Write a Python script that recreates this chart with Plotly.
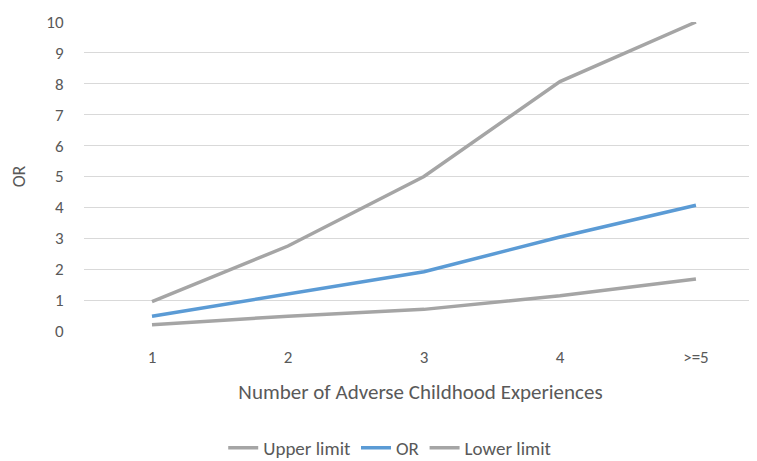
import plotly.graph_objects as go

categories = ["1", "2", "3", "4", ">=5"]
upper_limit = [0.95, 2.75, 5.0, 8.07, 10.0]
odds_ratio = [0.48, 1.2, 1.92, 3.04, 4.07]
lower_limit = [0.2, 0.48, 0.7, 1.14, 1.68]

gray = "#A5A5A5"
blue = "#5B9BD5"
text_color = "#595959"
font_family = "Carlito, Lato, 'Open Sans', sans-serif"

fig = go.Figure()
fig.add_trace(go.Scatter(x=categories, y=upper_limit, mode="lines", name="Upper limit",
                         line=dict(color=gray, width=3.5)))
fig.add_trace(go.Scatter(x=categories, y=odds_ratio, mode="lines", name="OR",
                         line=dict(color=blue, width=3.5)))
fig.add_trace(go.Scatter(x=categories, y=lower_limit, mode="lines", name="Lower limit",
                         line=dict(color=gray, width=3.5)))

fig.update_layout(
    width=749, height=453,
    margin=dict(l=76, r=0, t=14, b=130, autoexpand=False),
    plot_bgcolor="white", paper_bgcolor="white",
    font=dict(family=font_family, color=text_color, size=17),
    showlegend=True,
    legend=dict(orientation="h", x=0.455, xref="paper", xanchor="center",
                y=-0.378, yanchor="middle", font=dict(size=19, color=text_color),
                itemwidth=30),
    xaxis=dict(type="category", range=[-0.5, 4.449], showgrid=False, automargin=False,
               showline=False, zeroline=False, ticks="outside", ticklen=11,
               tickcolor="rgba(0,0,0,0)",
               tickfont=dict(size=17, color=text_color),
               title=dict(text="Number of Adverse Childhood Experiences",
                          font=dict(size=21, color=text_color), standoff=16)),
    yaxis=dict(range=[0, 10], dtick=1, showgrid=True, gridcolor="#D9D9D9", automargin=False,
               gridwidth=1, zeroline=False, showline=False,
               ticks="outside", ticklen=16, tickcolor="rgba(0,0,0,0)",
               tickfont=dict(size=17, color=text_color),
               title=dict(text="OR", font=dict(size=18, color=text_color), standoff=18)),
)

fig.write_html("out.html")
